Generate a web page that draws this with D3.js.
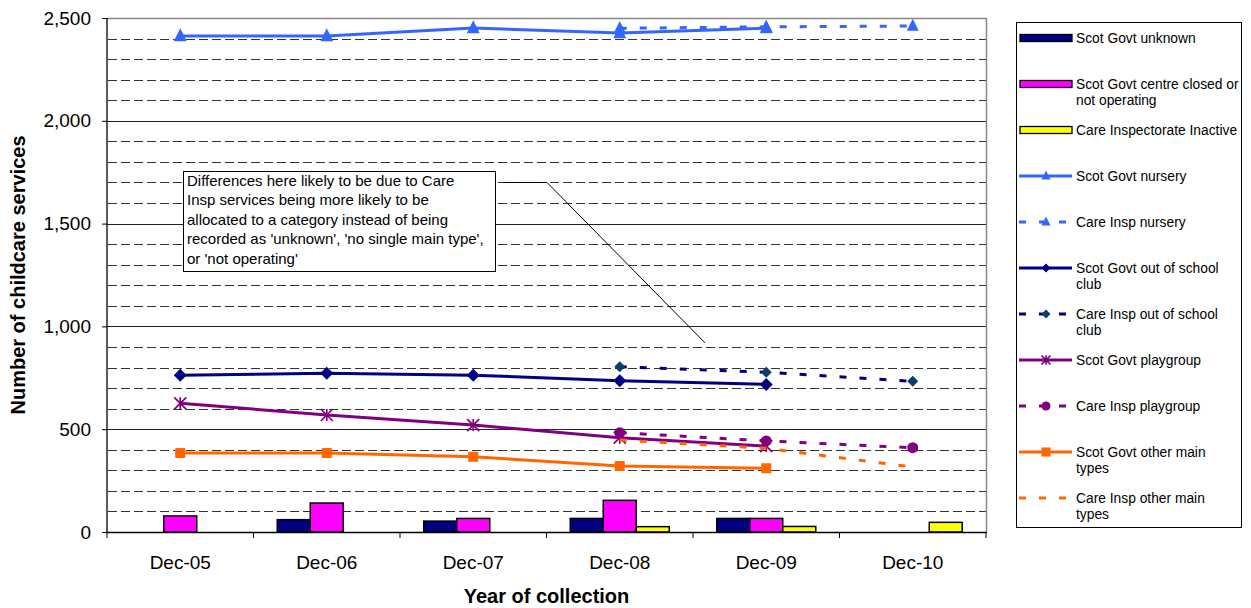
<!DOCTYPE html>
<html><head><meta charset="utf-8">
<script src="https://cdn.jsdelivr.net/npm/d3@7"></script>
<style>
body{margin:0;background:#fff}
svg{display:block}
text{font-family:Arial,"Liberation Sans",sans-serif;fill:#000}
</style>
</head><body>
<svg id="c" width="1251" height="608"></svg>
<script>
// ---- data ----
const categories = ["Dec-05","Dec-06","Dec-07","Dec-08","Dec-09","Dec-10"];
const yTicks = [0,500,1000,1500,2000,2500];

const sgUnknown  = [null, 60, 53, 66, 66, null];
const sgClosed   = [78, 141, 66, 154, 66, null];
const ciInactive = [null, null, null, 26, 27, 47];

const sgNursery = [2412, 2412, 2451, 2427, 2451, null];
const ciNursery = [null, null, null, 2450, 2457, 2461];
const sgOSC     = [763, 772, 763, 736, 718, null];
const ciOSC     = [null, null, null, 804, 777, 733];
const sgPlay    = [626, 569, 520, 459, 418, null];
const ciPlay    = [null, null, null, 483, 443, 410];
const sgOther   = [384, 384, 366, 321, 310, null];
const ciOther   = [null, null, null, 447, 407, 316];

const barNames = ["Scot Govt unknown","Scot Govt centre closed or|not operating","Care Inspectorate Inactive"];
const lineNames = ["Scot Govt nursery","Care Insp nursery","Scot Govt out of school|club","Care Insp out of school|club",
  "Scot Govt playgroup","Care Insp playgroup","Scot Govt other main|types","Care Insp other main|types"];
const noteLines = ["Differences here likely to be due to Care","Insp services being more likely to be",
  "allocated to a category instead of being","recorded as 'unknown', 'no single main type',","or 'not operating'"];
const xTitle = "Year of collection";
const yTitle = "Number of childcare services";

// ---- setup ----
const svg = d3.select("#c");
const L = 107, R = 986, T = 18, B = 532;
const x = d3.scaleBand().domain(categories).range([L, R]).padding(0);
const y = d3.scaleLinear().domain([0, 2500]).range([B, T]);
const bw = x.bandwidth();
const groupW = 99;
const xb = d3.scaleBand().domain([0,1,2]).range([(bw-groupW)/2, (bw+groupW)/2]);
const cx = c => x(c) + bw/2;

// gridlines
const minor = d3.range(100, 2500, 100).filter(v => v % 500 !== 0);
svg.append("g").selectAll("line").data(minor).join("line")
  .attr("x1", L+1).attr("x2", R).attr("y1", d => Math.round(y(d))+0.5).attr("y2", d => Math.round(y(d))+0.5)
  .attr("stroke", "#333").attr("stroke-width", 1).attr("stroke-dasharray", "9,4");
svg.append("g").selectAll("line").data([500,1000,1500,2000]).join("line")
  .attr("x1", L).attr("x2", R).attr("y1", d => Math.round(y(d))+0.5).attr("y2", d => Math.round(y(d))+0.5)
  .attr("stroke", "#222").attr("stroke-width", 1);
// plot border top/right
svg.append("path").attr("d", `M${L},${Math.round(y(2500))+0.5}H${R+0.5}V${B}`)
  .attr("fill","none").attr("stroke","#888").attr("stroke-width",1.5);

// annotation box
const nb = {x0:183, y0:171, w:312, h:100};
svg.append("rect").attr("x", nb.x0+0.5).attr("y", nb.y0+0.5).attr("width", nb.w).attr("height", nb.h)
  .attr("fill","#fff").attr("stroke","#000").attr("stroke-width",1);
svg.append("g").selectAll("text").data(noteLines).join("text")
  .attr("x", nb.x0+4).attr("y", (d,i) => nb.y0+15+i*19.4)
  .attr("font-size", "15px").text(d => d);
svg.append("polyline").attr("points", `503,${y(1700)} 547,${y(1700)} 705,${y(920)}`)
  .attr("fill","none").attr("stroke","#000").attr("stroke-width",1);

// bars
const barColors = ["#000080","#FF00FF","#FFFF00"];
const barData = [sgUnknown, sgClosed, ciInactive];
barData.forEach((arr, si) => {
  svg.append("g").selectAll("rect").data(categories.map((c,i)=>({c, v:arr[i]})).filter(d => d.v != null)).join("rect")
    .attr("x", d => x(d.c) + xb(si)).attr("width", xb.bandwidth())
    .attr("y", d => y(d.v)).attr("height", d => y(0) - y(d.v))
    .attr("fill", barColors[si]).attr("stroke", "#000").attr("stroke-width", 1.5);
});

// axes
const yAxis = svg.append("g").attr("transform", `translate(${L},0)`)
  .call(d3.axisLeft(y).tickValues(yTicks).tickSize(5).tickPadding(11).tickFormat(d3.format(",")));
yAxis.select(".domain").attr("stroke","#000").attr("stroke-width",1.3).attr("d", `M0,${T}V${B}`);
yAxis.selectAll(".tick line").attr("stroke","#000");
yAxis.selectAll("text").attr("font-size","19px").attr("font-family","Arial, 'Liberation Sans', sans-serif");

const xAxis = svg.append("g").attr("transform", `translate(0,${B})`)
  .call(d3.axisBottom(x).tickSize(0).tickPadding(24));
xAxis.select(".domain").remove();
xAxis.selectAll("text").attr("font-size","19px").attr("font-family","Arial, 'Liberation Sans', sans-serif");
svg.append("line").attr("x1", L).attr("x2", R+1).attr("y1", B+0.5).attr("y2", B+0.5).attr("stroke","#000").attr("stroke-width",1.5);
svg.append("g").selectAll("line").data(categories.concat(["end"])).join("line")
  .attr("x1", (d,i) => L + i*bw).attr("x2", (d,i) => L + i*bw)
  .attr("y1", B).attr("y2", B+6).attr("stroke","#000").attr("stroke-width",1);

// titles
svg.append("text").attr("x", (L+R)/2).attr("y", 603).attr("text-anchor","middle")
  .attr("font-size","20px").attr("font-weight","bold").text(xTitle);
svg.append("text").attr("transform", `translate(25,${(T+B)/2}) rotate(-90)`).attr("text-anchor","middle")
  .attr("font-size","20px").attr("font-weight","bold").text(yTitle);

// marker shapes
function marker(g, type, px, py, s, color) {
  if (type === "tri") {
    g.append("path").attr("d", `M${px},${py-s*0.6}L${px+s/2},${py+s*0.4}L${px-s/2},${py+s*0.4}Z`).attr("fill", color);
  } else if (type === "dia") {
    g.append("path").attr("d", `M${px},${py-s/2}L${px+s/2},${py}L${px},${py+s/2}L${px-s/2},${py}Z`).attr("fill", color);
  } else if (type === "sq") {
    g.append("rect").attr("x", px-s/2).attr("y", py-s/2).attr("width", s).attr("height", s).attr("fill", color);
  } else if (type === "cir") {
    g.append("circle").attr("cx", px).attr("cy", py).attr("r", s/2).attr("fill", color);
  } else if (type === "ast") {
    const h = s/2;
    g.append("path").attr("d", `M${px-h},${py-h}L${px+h},${py+h}M${px-h},${py+h}L${px+h},${py-h}M${px},${py-h}V${py+h}`)
      .attr("stroke", color).attr("stroke-width", 1.7).attr("fill","none");
  }
}

// lines
const series = [
  {v: sgNursery, color:"#3366FF", dash:null, mk:"tri", mc:"#3366FF", ms:13},
  {v: ciNursery, color:"#3366FF", dash:"7,13", mk:"tri", mc:"#3366FF", ms:12},
  {v: sgOSC,     color:"#000080", dash:null, mk:"dia", mc:"#000080", ms:13},
  {v: ciOSC,     color:"#000080", dash:"7,13", mk:"dia", mc:"#0B3F66", ms:11},
  {v: sgPlay,    color:"#800080", dash:null, mk:"ast", mc:"#800080", ms:12},
  {v: ciPlay,    color:"#800080", dash:"7,13", mk:"cir", mc:"#800080", ms:11},
  {v: sgOther,   color:"#FF6600", dash:null, mk:"sq", mc:"#FF6600", ms:10},
  {v: ciOther,   color:"#FF6600", dash:"7,13", mk:null, mc:null, ms:0}
];
const line = d3.line().defined(d => d.v != null).x(d => cx(d.c)).y(d => y(d.v));
series.forEach(s => {
  const pts = categories.map((c,i) => ({c, v:s.v[i]}));
  const g = svg.append("g");
  g.append("path").datum(pts).attr("d", line).attr("fill","none")
    .attr("stroke", s.color).attr("stroke-width", 3)
    .attr("stroke-dasharray", s.dash);
  if (s.mk) pts.filter(d => d.v != null).forEach(d => marker(g, s.mk, cx(d.c), y(d.v), s.ms, s.mc));
});

// legend
svg.append("rect").attr("x", 1016.5).attr("y", 22.5).attr("width", 225).attr("height", 505)
  .attr("fill","#fff").attr("stroke","#000").attr("stroke-width",1);
const leg = svg.append("g");
const allNames = barNames.concat(lineNames);
allNames.forEach((name, i) => {
  const ly = 38 + i*46;
  name.split("|").forEach((t, j) => {
    leg.append("text").attr("x", 1076).attr("y", ly + j*16 + 5).attr("font-size","13.8px").text(t);
  });
  if (i < 3) {
    leg.append("rect").attr("x", 1020).attr("y", ly-3.5).attr("width", 52).attr("height", 7)
      .attr("fill", barColors[i]).attr("stroke","#000").attr("stroke-width",1.3);
  } else {
    const s = series[i-3];
    leg.append("line").attr("x1", 1019).attr("x2", 1072).attr("y1", ly).attr("y2", ly)
      .attr("stroke", s.color).attr("stroke-width", 3).attr("stroke-dasharray", s.dash);
    if (s.mk) marker(leg, s.mk, 1046, ly, 9, s.mc);
  }
});
</script>
</body></html>
